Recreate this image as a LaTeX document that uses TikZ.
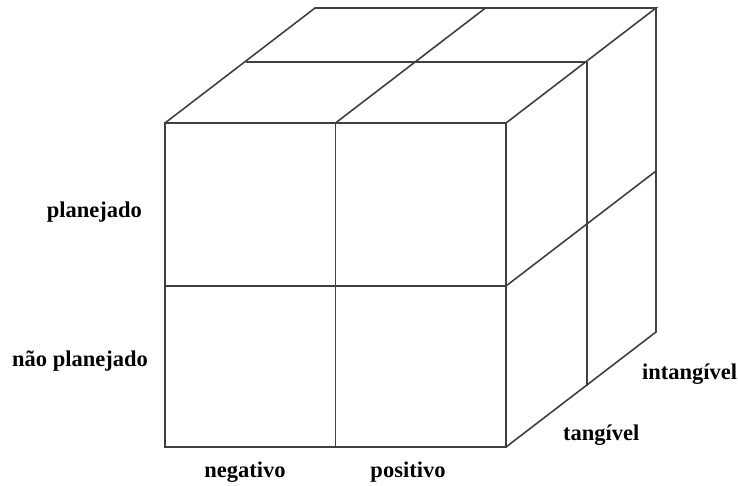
\documentclass[tikz,border=0pt]{standalone}
\usepackage{fontspec}
\setmainfont{Liberation Serif}
\begin{document}
\begin{tikzpicture}[x=1pt,y=-1pt,
  edge/.style={draw=black!75, line width=1.6pt, line join=miter},
  lab/.style={font=\fontsize{22.5}{26}\selectfont\bfseries, text=black, inner sep=0pt}]
\useasboundingbox (0,0) rectangle (738,486);
% front face corners
\coordinate (A) at (165,123);
\coordinate (B) at (335.5,123);
\coordinate (C) at (506,123);
\coordinate (D) at (165,286);
\coordinate (E) at (335.5,286);
\coordinate (F) at (506,286);
\coordinate (G) at (165,447);
\coordinate (H) at (335.5,447);
\coordinate (I) at (506,447);
% depth offsets
\coordinate (A1) at (246,62);
\coordinate (B1) at (416.5,62);
\coordinate (C1) at (587,62);
\coordinate (A2) at (315,8);
\coordinate (B2) at (485.5,8);
\coordinate (C2) at (656,8);
\coordinate (F1) at (587,225);
\coordinate (F2) at (656,171);
\coordinate (I1) at (587,386);
\coordinate (I2) at (656,332);
% front face
\draw[edge] (A) rectangle (I);
\draw[edge] (B) -- (H);
\draw[edge] (D) -- (F);
% top face
\draw[edge] (A) -- (A2) -- (C2) -- (C);
\draw[edge] (B) -- (B2);
\draw[edge] (A1) -- (C1);
% right face
\draw[edge] (C2) -- (I2) -- (I);
\draw[edge] (C1) -- (I1);
\draw[edge] (F) -- (F2);
% labels
\node[lab, anchor=east] (plan) at (142,212) {planejado};
\node[lab, anchor=east] (nplan) at (148,361) {não planejado};
\node[lab] (neg) at (245,472) {negativo};
\node[lab] (pos) at (408,472) {positivo};
\node[lab, anchor=west] (intan) at (642,374) {intangível};
\node[lab, anchor=west] (tan) at (563,435) {tangível};
\end{tikzpicture}
\end{document}
